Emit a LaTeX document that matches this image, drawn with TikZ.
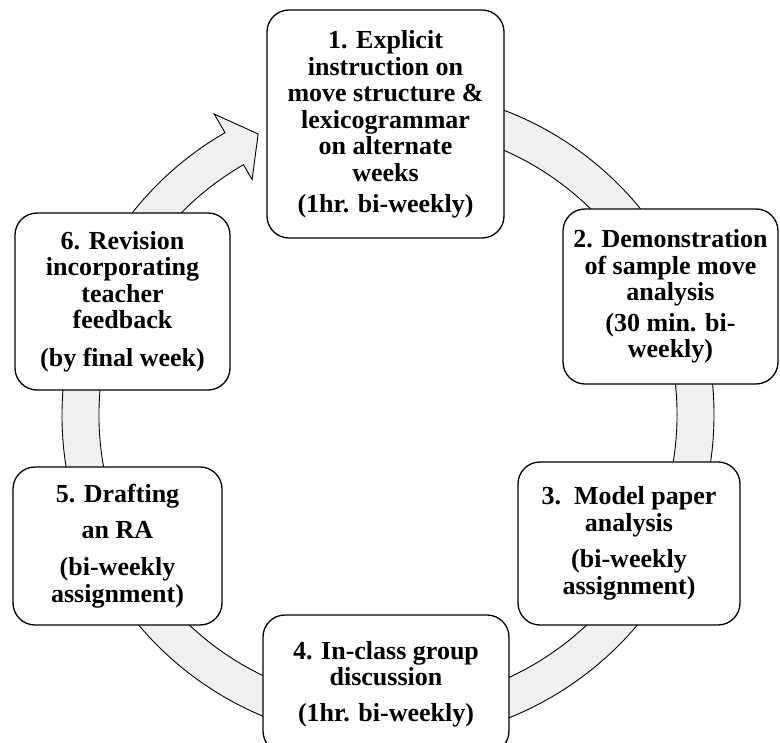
\documentclass[tikz,border=0pt]{standalone}
\usepackage{fontspec}
\setmainfont{Liberation Serif}
\usetikzlibrary{positioning,calc}

\begin{document}
\begin{tikzpicture}[
    x=1pt, y=1pt,
    stagebox/.style={
      draw, line width=1.3pt, rounded corners=22pt, fill=white,
      align=center, inner sep=0pt,
      font=\bfseries\fontsize{26}{26.6}\selectfont
    },
    band/.style={
      draw, line width=0.9pt, fill=black!6, line join=miter
    }
  ]
    \useasboundingbox (0,0) rectangle (780,-743);

    % circular arrow behind the stages
    \coordinate (hub) at (388,-415);
    \begin{scope}[shift={(hub)}]
      \draw[band] (85:326pt) arc[start angle=85, end angle=-240, radius=326pt]
        -- (-240:347.5pt) -- (-245.2:309.6pt) -- (-240:271.8pt) -- (-240:289pt)
        arc[start angle=-240, end angle=85, radius=289pt] -- cycle;
    \end{scope}

    % stages
    \node[stagebox, minimum width=237pt, minimum height=228pt] (explicit) at (385.5,-124)
      {1. Explicit\\instruction on\\move structure \&\\lexicogrammar\\on alternate\\weeks\\[4pt](1hr. bi-weekly)};
    \node[stagebox, minimum width=215pt, minimum height=175pt] (demo) at (670.5,-296.5)
      {2. Demonstration\\of sample move\\analysis\\[4pt](30 min. bi-\\weekly)};
    \node[stagebox, minimum width=222pt, minimum height=163pt] (model) at (629,-543.5)
      {3.\ \ Model paper\\analysis\\[10pt](bi-weekly\\assignment)};
    \node[stagebox, minimum width=246pt, minimum height=138pt] (discuss) at (386,-684)
      {4. In-class group\\discussion\\[9pt](1hr. bi-weekly)};
    \node[stagebox, minimum width=209pt, minimum height=158pt] (draft) at (117.5,-546)
      {5. Drafting\\[10pt]an RA\\[10pt](bi-weekly\\assignment)};
    \node[stagebox, minimum width=215pt, minimum height=177pt] (revise) at (122.5,-301.5)
      {6. Revision\\incorporating\\teacher\\feedback\\[11pt](by final week)};
\end{tikzpicture}
\end{document}
